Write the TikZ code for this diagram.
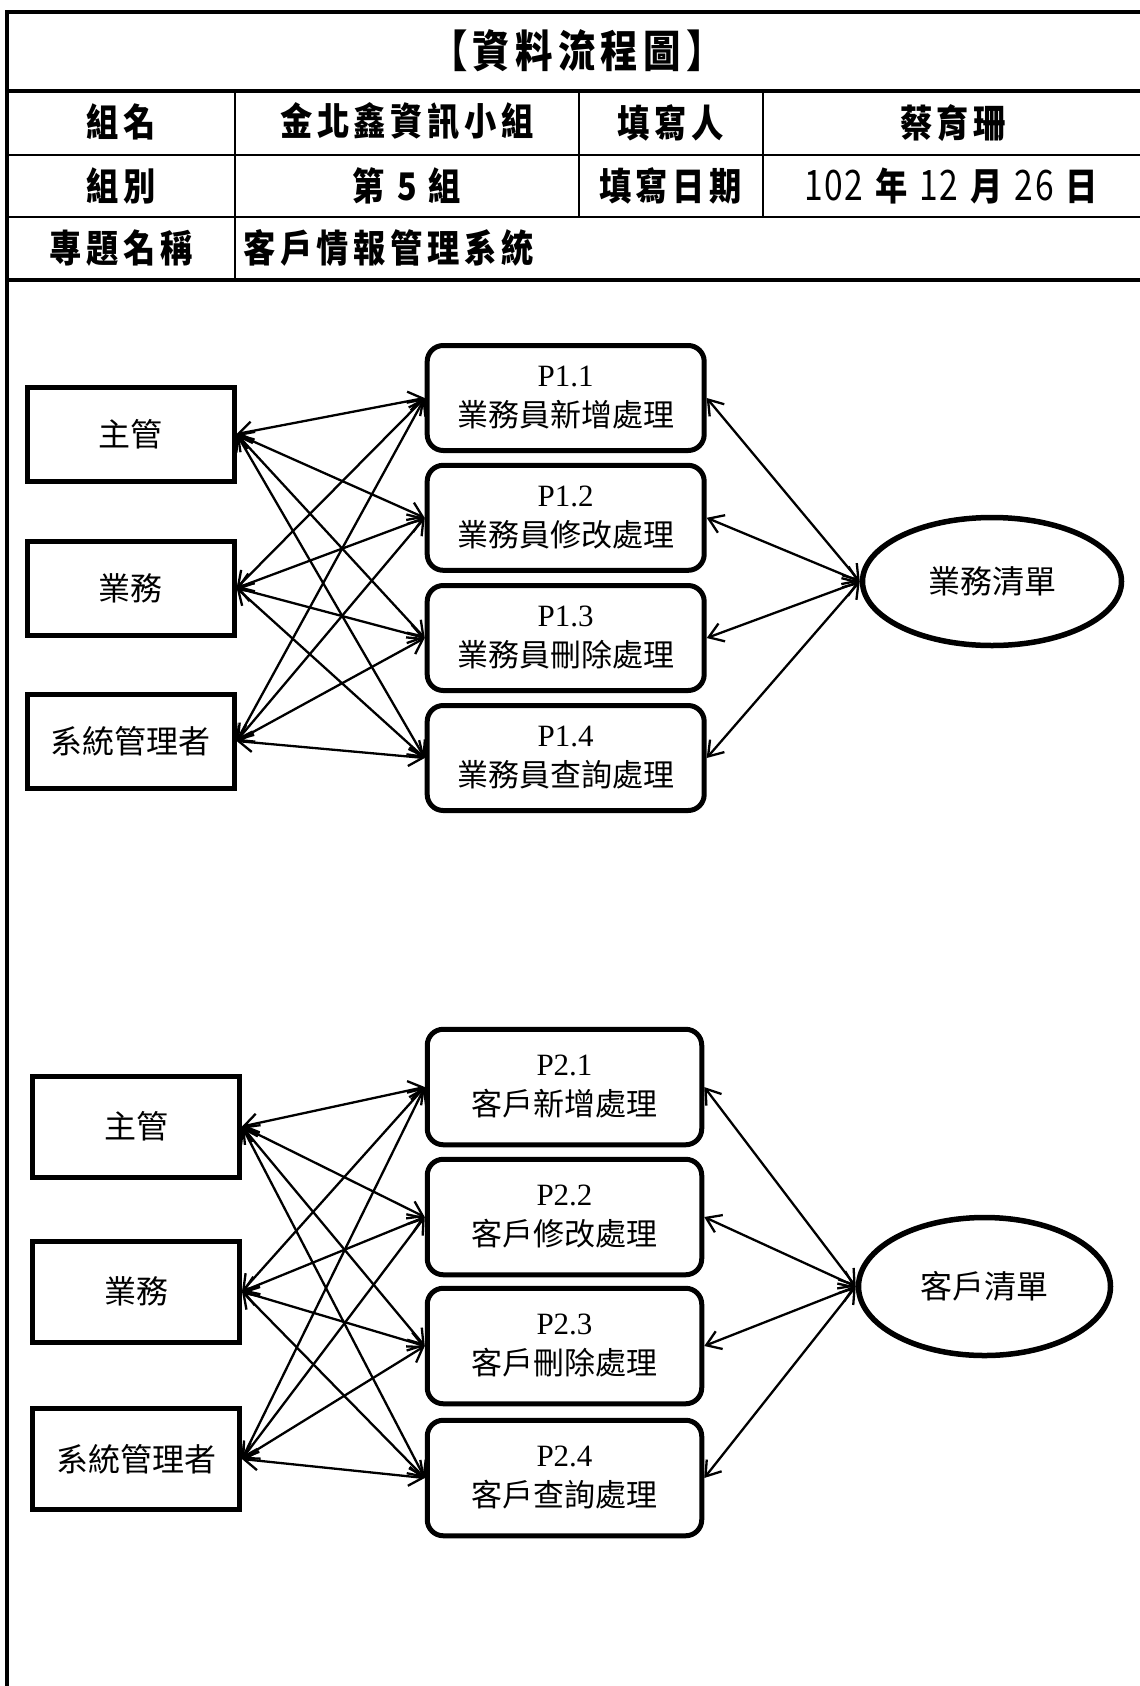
\documentclass[tikz,border=0pt]{standalone}
\usepackage{fontspec}
\setmainfont{Liberation Serif}
\newfontfamily\cjk{Noto Sans CJK TC}
\newfontfamily\hdr{Noto Sans CJK TC}[FakeStretch=0.85,LetterSpace=12]
\newfontfamily\hdrdig{Noto Sans CJK TC}[FakeStretch=0.8,LetterSpace=4]
\usetikzlibrary{arrows.meta,shapes.geometric}
\begin{document}
\begin{tikzpicture}[x=1pt,y=-1pt,
  actor/.style={draw,line width=5pt,minimum width=207pt,minimum height=94pt,inner sep=0pt,font=\cjk\fontsize{32}{36}\selectfont},
  proc/.style={draw,line width=5pt,rounded corners=16pt,minimum width=277pt,minimum height=105pt,align=center,inner sep=0pt,font=\fontsize{31}{40}\selectfont},
  store/.style={draw,ellipse,line width=5.5pt,minimum width=259pt,minimum height=128pt,inner sep=0pt,font=\cjk\fontsize{32}{36}\selectfont},
  flow/.style={line width=2.3pt,<->},
  >={Straight Barb[length=14pt,width=19pt]},
  hcell/.style={inner sep=0pt,font=\hdr\bfseries\fontsize{38}{44}\selectfont},
  thick line/.style={line width=4pt},
  thin line/.style={line width=2pt}]
\useasboundingbox (0,0) rectangle (1140,1686);
% frame and table
\draw[thick line] (7,1686) -- (7,11.7) -- (1140,11.7);
\draw[thick line] (5,91) -- (1140,91);
\draw[thin line] (5,155) -- (1140,155);
\draw[thin line] (5,217) -- (1140,217);
\draw[thick line] (5,279.5) -- (1140,279.5);
\draw[thin line] (235,91) -- (235,279.5);
\draw[thin line] (578.6,91) -- (578.6,217);
\draw[thin line] (762.5,91) -- (762.5,217);
\node[hcell] (title) at (577,51) {\fontsize{44}{50}\selectfont 【資料流程圖】};
\node[hcell] (h11) at (121,122) {組名};
\node[hcell] (h12) at (407,121) {金北鑫資訊小組};
\node[hcell] (h13) at (670.5,123) {填寫人};
\node[hcell] (h14) at (953,123) {蔡育珊};
\node[hcell] (h21) at (121,186) {組別};
\node[hcell] (h22) at (407,186) {第 5 組};
\node[hcell] (h23) at (670.5,186) {填寫日期};
\node[hcell] (h24) at (951,186) {{\hdrdig\mdseries\fontsize{42}{44}\selectfont 102} 年 {\hdrdig\mdseries\fontsize{42}{44}\selectfont 12} 月 {\hdrdig\mdseries\fontsize{42}{44}\selectfont 26} 日};
\node[hcell] (h31) at (121,248) {專題名稱};
\node[hcell,anchor=west] (h32) at (243,248) {客戶情報管理系統};
% upper diagram
\node[actor] (a1) at (130.6,434) {主管};
\node[actor] (a2) at (130.6,588) {業務};
\node[actor] (a3) at (130.6,741) {系統管理者};
\node[proc] (p1) at (565.7,398) {P1.1\\{\cjk 業務員新增處理}};
\node[proc] (p2) at (565.7,517.8) {P1.2\\{\cjk 業務員修改處理}};
\node[proc] (p3) at (565.7,638) {P1.3\\{\cjk 業務員刪除處理}};
\node[proc] (p4) at (565.7,758) {P1.4\\{\cjk 業務員查詢處理}};
\node[store] (s1) at (992,581.5) {業務清單};
\foreach \a in {a1,a2,a3}{\foreach \p in {p1,p2,p3,p4}{\draw[flow] (\a.east) -- (\p.west);}}
\foreach \p in {p1,p2,p3,p4}{\draw[flow] (\p.east) -- (s1.west);}
% lower diagram
\node[actor,minimum height=101pt] (b1) at (136,1126.5) {主管};
\node[actor,minimum height=101pt] (b2) at (136,1291.5) {業務};
\node[actor,minimum height=101pt] (b3) at (136,1459) {系統管理者};
\node[proc,minimum width=274.5pt,minimum height=115.5pt] (q1) at (564.5,1087) {P2.1\\{\cjk 客戶新增處理}};
\node[proc,minimum width=274.5pt,minimum height=115.5pt] (q2) at (564.5,1217) {P2.2\\{\cjk 客戶修改處理}};
\node[proc,minimum width=274.5pt,minimum height=115.5pt] (q3) at (564.5,1346) {P2.3\\{\cjk 客戶刪除處理}};
\node[proc,minimum width=274.5pt,minimum height=115.5pt] (q4) at (564.5,1478) {P2.4\\{\cjk 客戶查詢處理}};
\node[store,minimum width=252pt,minimum height=138pt] (s2) at (984.5,1286.5) {客戶清單};
\foreach \a in {b1,b2,b3}{\foreach \p in {q1,q2,q3,q4}{\draw[flow] (\a.east) -- (\p.west);}}
\foreach \p in {q1,q2,q3,q4}{\draw[flow] (\p.east) -- (s2.west);}
\end{tikzpicture}
\end{document}
